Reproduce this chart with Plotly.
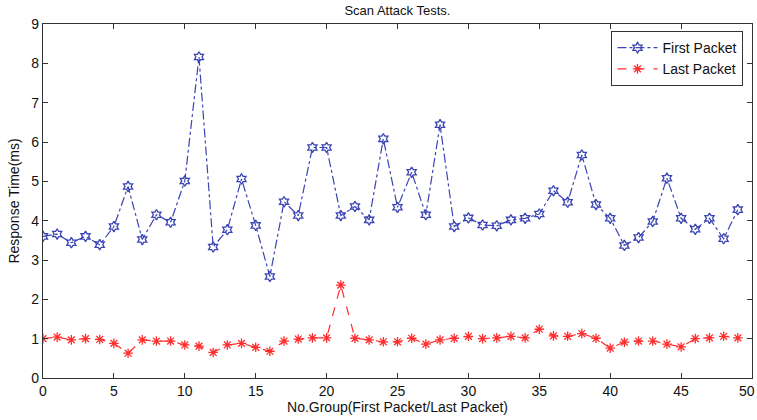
import plotly.graph_objects as go

groups = list(range(50))
first_packet = [3.60, 3.66, 3.44, 3.60, 3.39, 3.85, 4.87, 3.52, 4.15, 3.96,
                5.01, 8.16, 3.33, 3.77, 5.06, 3.88, 2.58, 4.48, 4.13, 5.86,
                5.86, 4.13, 4.36, 4.02, 6.08, 4.34, 5.23, 4.15, 6.44, 3.85,
                4.07, 3.89, 3.87, 4.02, 4.06, 4.17, 4.76, 4.47, 5.67, 4.41,
                4.06, 3.37, 3.57, 3.98, 5.08, 4.06, 3.78, 4.06, 3.54, 4.28]
last_packet = [1.00, 1.04, 0.97, 1.00, 0.98, 0.88, 0.63, 0.97, 0.94, 0.94,
               0.84, 0.81, 0.65, 0.84, 0.88, 0.78, 0.68, 0.94, 0.99, 1.02,
               1.02, 2.36, 1.01, 0.97, 0.92, 0.92, 1.01, 0.86, 0.97, 1.01,
               1.06, 1.00, 1.02, 1.06, 1.02, 1.24, 1.07, 1.06, 1.13, 1.01,
               0.76, 0.91, 0.94, 0.94, 0.86, 0.79, 1.00, 1.02, 1.06, 1.02]
x_ticks = list(range(0, 51, 5))
y_ticks = list(range(0, 10))

font = "Liberation Sans, Arial, sans-serif"
blue = "#3a44b4"
red = "#ff2e2e"
tick_font = dict(family=font, size=14, color="#111111")

fig = go.Figure()
fig.add_trace(go.Scatter(
    x=groups, y=first_packet, name="First Packet", mode="lines+markers",
    line=dict(color=blue, width=1.2, dash="dashdot"),
    marker=dict(symbol="hexagram-open", size=8, color=blue, line=dict(width=1.3, color=blue)),
))
fig.add_trace(go.Scatter(
    x=groups, y=last_packet, name="Last Packet", mode="lines+markers",
    line=dict(color=red, width=1.2, dash="dash"),
    marker=dict(symbol="asterisk-open", size=8, color=red, line=dict(width=1.3, color=red)),
))

axis_common = dict(
    showline=True, linecolor="#333333", linewidth=1.2, mirror="ticks",
    ticks="inside", ticklen=5, tickcolor="#333333", showgrid=False, zeroline=False,
    tickfont=tick_font,
)

fig.update_layout(
    width=757, height=420,
    margin=dict(l=43, r=5, t=24, b=42),
    paper_bgcolor="white", plot_bgcolor="white",
    title=dict(text="Scan Attack Tests.", x=0.525, xanchor="center", y=0.975, yanchor="middle",
               font=dict(family=font, size=13, color="#111111")),
    xaxis=dict(range=[0, 50], tickvals=x_ticks, title=dict(text="No.Group(First Packet/Last Packet)",
               font=dict(family=font, size=14, color="#111111"), standoff=1), **axis_common),
    yaxis=dict(range=[0, 9], tickvals=y_ticks, title=dict(text="Response Time(ms)",
               font=dict(family=font, size=14, color="#111111"), standoff=8), **axis_common),
    legend=dict(x=0.988, xanchor="right", y=0.98, yanchor="top",
                bgcolor="white", bordercolor="#333333", borderwidth=1,
                font=dict(family=font, size=14, color="#111111"),
                tracegroupgap=0, itemwidth=40),
    showlegend=True,
)

# the final x tick label sits on the right edge of the figure; nudge it inside
fig.add_annotation(x=x_ticks[-1], y=0, xref="x", yref="paper", text=str(x_ticks[-1]),
                   showarrow=False, xanchor="center", yanchor="top", yshift=-3, xshift=-5,
                   font=tick_font)

fig.write_html("out.html")
